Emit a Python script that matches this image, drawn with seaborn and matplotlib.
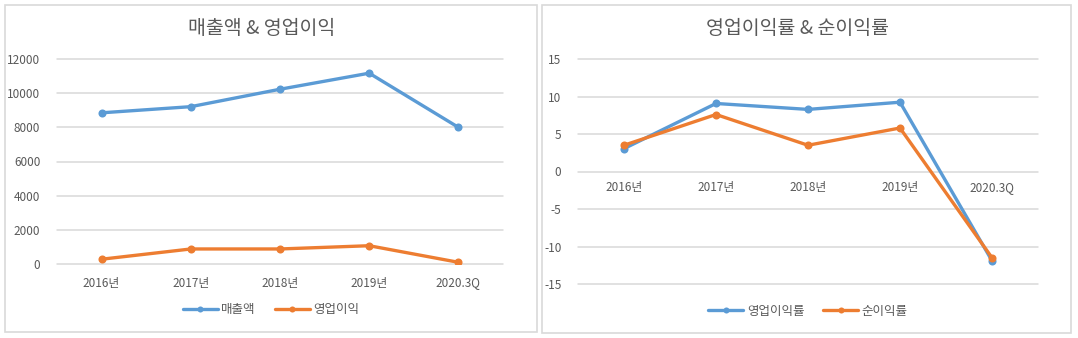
import matplotlib
matplotlib.use("Agg")
import matplotlib.pyplot as plt
import seaborn as sns
import pandas as pd
from matplotlib.patches import Rectangle

years = ["2016년", "2017년", "2018년", "2019년", "2020.3Q"]
sales = [8850, 9210, 10230, 11170, 8000]
op_profit = [280, 880, 880, 1070, 100]
op_margin = [3.05, 9.07, 8.28, 9.24, -11.9]
net_margin = [3.5, 7.6, 3.5, 5.8, -11.5]

sns.set_theme(style="white")
plt.rcParams['font.family'] = ['Noto Sans CJK KR', 'DejaVu Sans']
plt.rcParams['axes.unicode_minus'] = False

BLUE = "#5B9BD5"
ORANGE = "#ED7D31"
GRID = "#D9D9D9"
TEXT = "#595959"

df1 = pd.DataFrame({
    "x": years * 2,
    "v": sales + op_profit,
    "s": ["매출액"] * 5 + ["영업이익"] * 5,
})
df2 = pd.DataFrame({
    "x": years * 2,
    "v": op_margin + net_margin,
    "s": ["영업이익률"] * 5 + ["순이익률"] * 5,
})

W, H = 1078, 338
fig = plt.figure(figsize=(W / 100, H / 100), dpi=100)

# panel frames
for (x0, y0, x1, y1) in [(5, 5, 537, 332), (542, 5, 1071, 333)]:
    fig.add_artist(Rectangle((x0 / W, 1 - y1 / H), (x1 - x0) / W, (y1 - y0) / H,
                             transform=fig.transFigure, fill=False,
                             edgecolor=GRID, linewidth=1.2))

ax1 = fig.add_axes([57 / W, 1 - 264 / H, 446 / W, 205 / H])
ax2 = fig.add_axes([578 / W, 1 - 284 / H, 460 / W, 225 / H])

for ax, df, ylim, ticks in [
    (ax1, df1, (0, 12000), list(range(0, 12001, 2000))),
    (ax2, df2, (-15, 15), list(range(-15, 16, 5))),
]:
    sns.lineplot(data=df, x="x", y="v", hue="s", palette=[BLUE, ORANGE],
                 marker="o", markersize=5.8, markeredgewidth=0, linewidth=2.4,
                 ax=ax, sort=False)
    ax.set_xlim(-0.5, 4.5)
    ax.set_ylim(*ylim)
    ax.set_yticks(ticks)
    ax.set_yticklabels([str(t) for t in ticks])
    ax.grid(axis="y", color=GRID, linewidth=1.1)
    ax.set_axisbelow(True)
    for gl in ax.yaxis.get_gridlines():
        gl.set_clip_on(False)
    for sp in ax.spines.values():
        sp.set_visible(False)
    ax.tick_params(axis="both", length=0, labelsize=8.5, labelcolor=TEXT)
    ax.tick_params(axis="y", pad=12)
    ax.set_xlabel("")
    ax.set_ylabel("")
    if ax.get_legend() is not None:
        ax.get_legend().remove()

ax1.tick_params(axis="x", pad=9)
ax2.spines["bottom"].set_position(("data", 0))
ax2.tick_params(axis="x", pad=7)

fig.text(262 / W, 1 - 28 / H, "매출액 & 영업이익", ha="center", va="center",
         fontsize=14, color=TEXT)
fig.text(798 / W, 1 - 28 / H, "영업이익률 & 순이익률", ha="center", va="center",
         fontsize=14, color=TEXT)

for ax, cx, cy in [(ax1, 271, 310), (ax2, 808, 311)]:
    h, l = ax.get_legend_handles_labels()
    fig.legend(h, l, loc="center", bbox_to_anchor=(cx / W, 1 - cy / H),
               ncol=2, frameon=False, fontsize=9, labelcolor=TEXT,
               handlelength=2.8, handletextpad=0.3, columnspacing=1.5,
               markerscale=0.75)

fig.savefig("out.png", dpi=100, facecolor="white")
